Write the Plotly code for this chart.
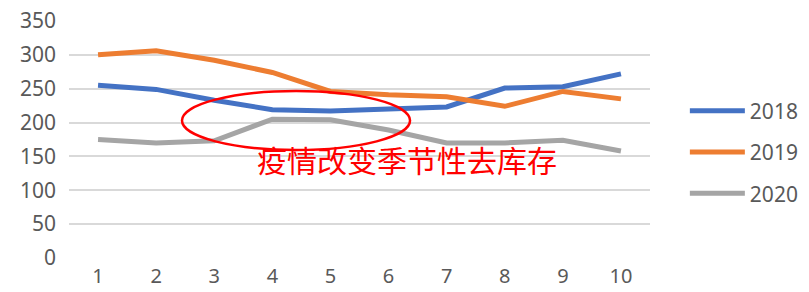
import plotly.graph_objects as go

months = [1, 2, 3, 4, 5, 6, 7, 8, 9, 10]
s2018 = [255, 249, 233, 219, 217, 220, 223, 251, 253, 272]
s2019 = [300, 306, 292, 274, 246, 241, 238, 224, 246, 235]
s2020 = [175, 170, 173, 205, 204, 189, 170, 170, 174, 158]
series_names = ["2018", "2019", "2020"]
colors = ["#4472C4", "#ED7D31", "#A5A5A5"]
y_ticks = [0, 50, 100, 150, 200, 250, 300, 350]
annotation_text = "疫情改变季节性去库存"

fig = go.Figure()
for name, vals, c in zip(series_names, [s2018, s2019, s2020], colors):
    fig.add_trace(go.Scatter(x=months, y=vals, name=name, mode="lines", legendgroup=name,
                             line=dict(color=c, width=5)))

fig.add_shape(type="circle", xref="x", yref="y", x0=2.445, x1=6.37, y0=159.5, y1=246.6,
              line=dict(color="#FF0000", width=2.5), fillcolor="rgba(0,0,0,0)")
fig.add_annotation(x=6.31, y=146.5, xref="x", yref="y", text=annotation_text, showarrow=False,
                   xanchor="center", yanchor="middle",
                   font=dict(family="Noto Sans CJK SC", size=30, color="#FF0000"))

fig.update_layout(
    width=809, height=292,
    margin=dict(l=69, r=159, t=21, b=34, autoexpand=False),
    plot_bgcolor="white", paper_bgcolor="white",
    font=dict(family="Noto Sans", color="#595959", size=20),
    showlegend=True,
    legend=dict(x=1.06, y=0.447, xanchor="left", yanchor="middle",
                font=dict(size=21, color="#595959"), itemwidth=55,
                traceorder="grouped", tracegroupgap=11),
    xaxis=dict(range=[0.5, 10.5], tickvals=months, showgrid=False, zeroline=False,
               showline=False, ticks="", automargin=False, ticklabelstandoff=4,
               tickfont=dict(size=20, color="#595959")),
    yaxis=dict(range=[0, 350], tickvals=y_ticks, showgrid=True, gridcolor="#D9D9D9",
               gridwidth=1.5, zeroline=False, showline=False, ticks="", automargin=False,
               tickfont=dict(size=21, color="#595959"), ticklabelstandoff=12),
)

fig.write_html("out.html", config={"displayModeBar": False},
               post_script="document.body.style.margin='0';document.body.style.overflow='hidden';")
